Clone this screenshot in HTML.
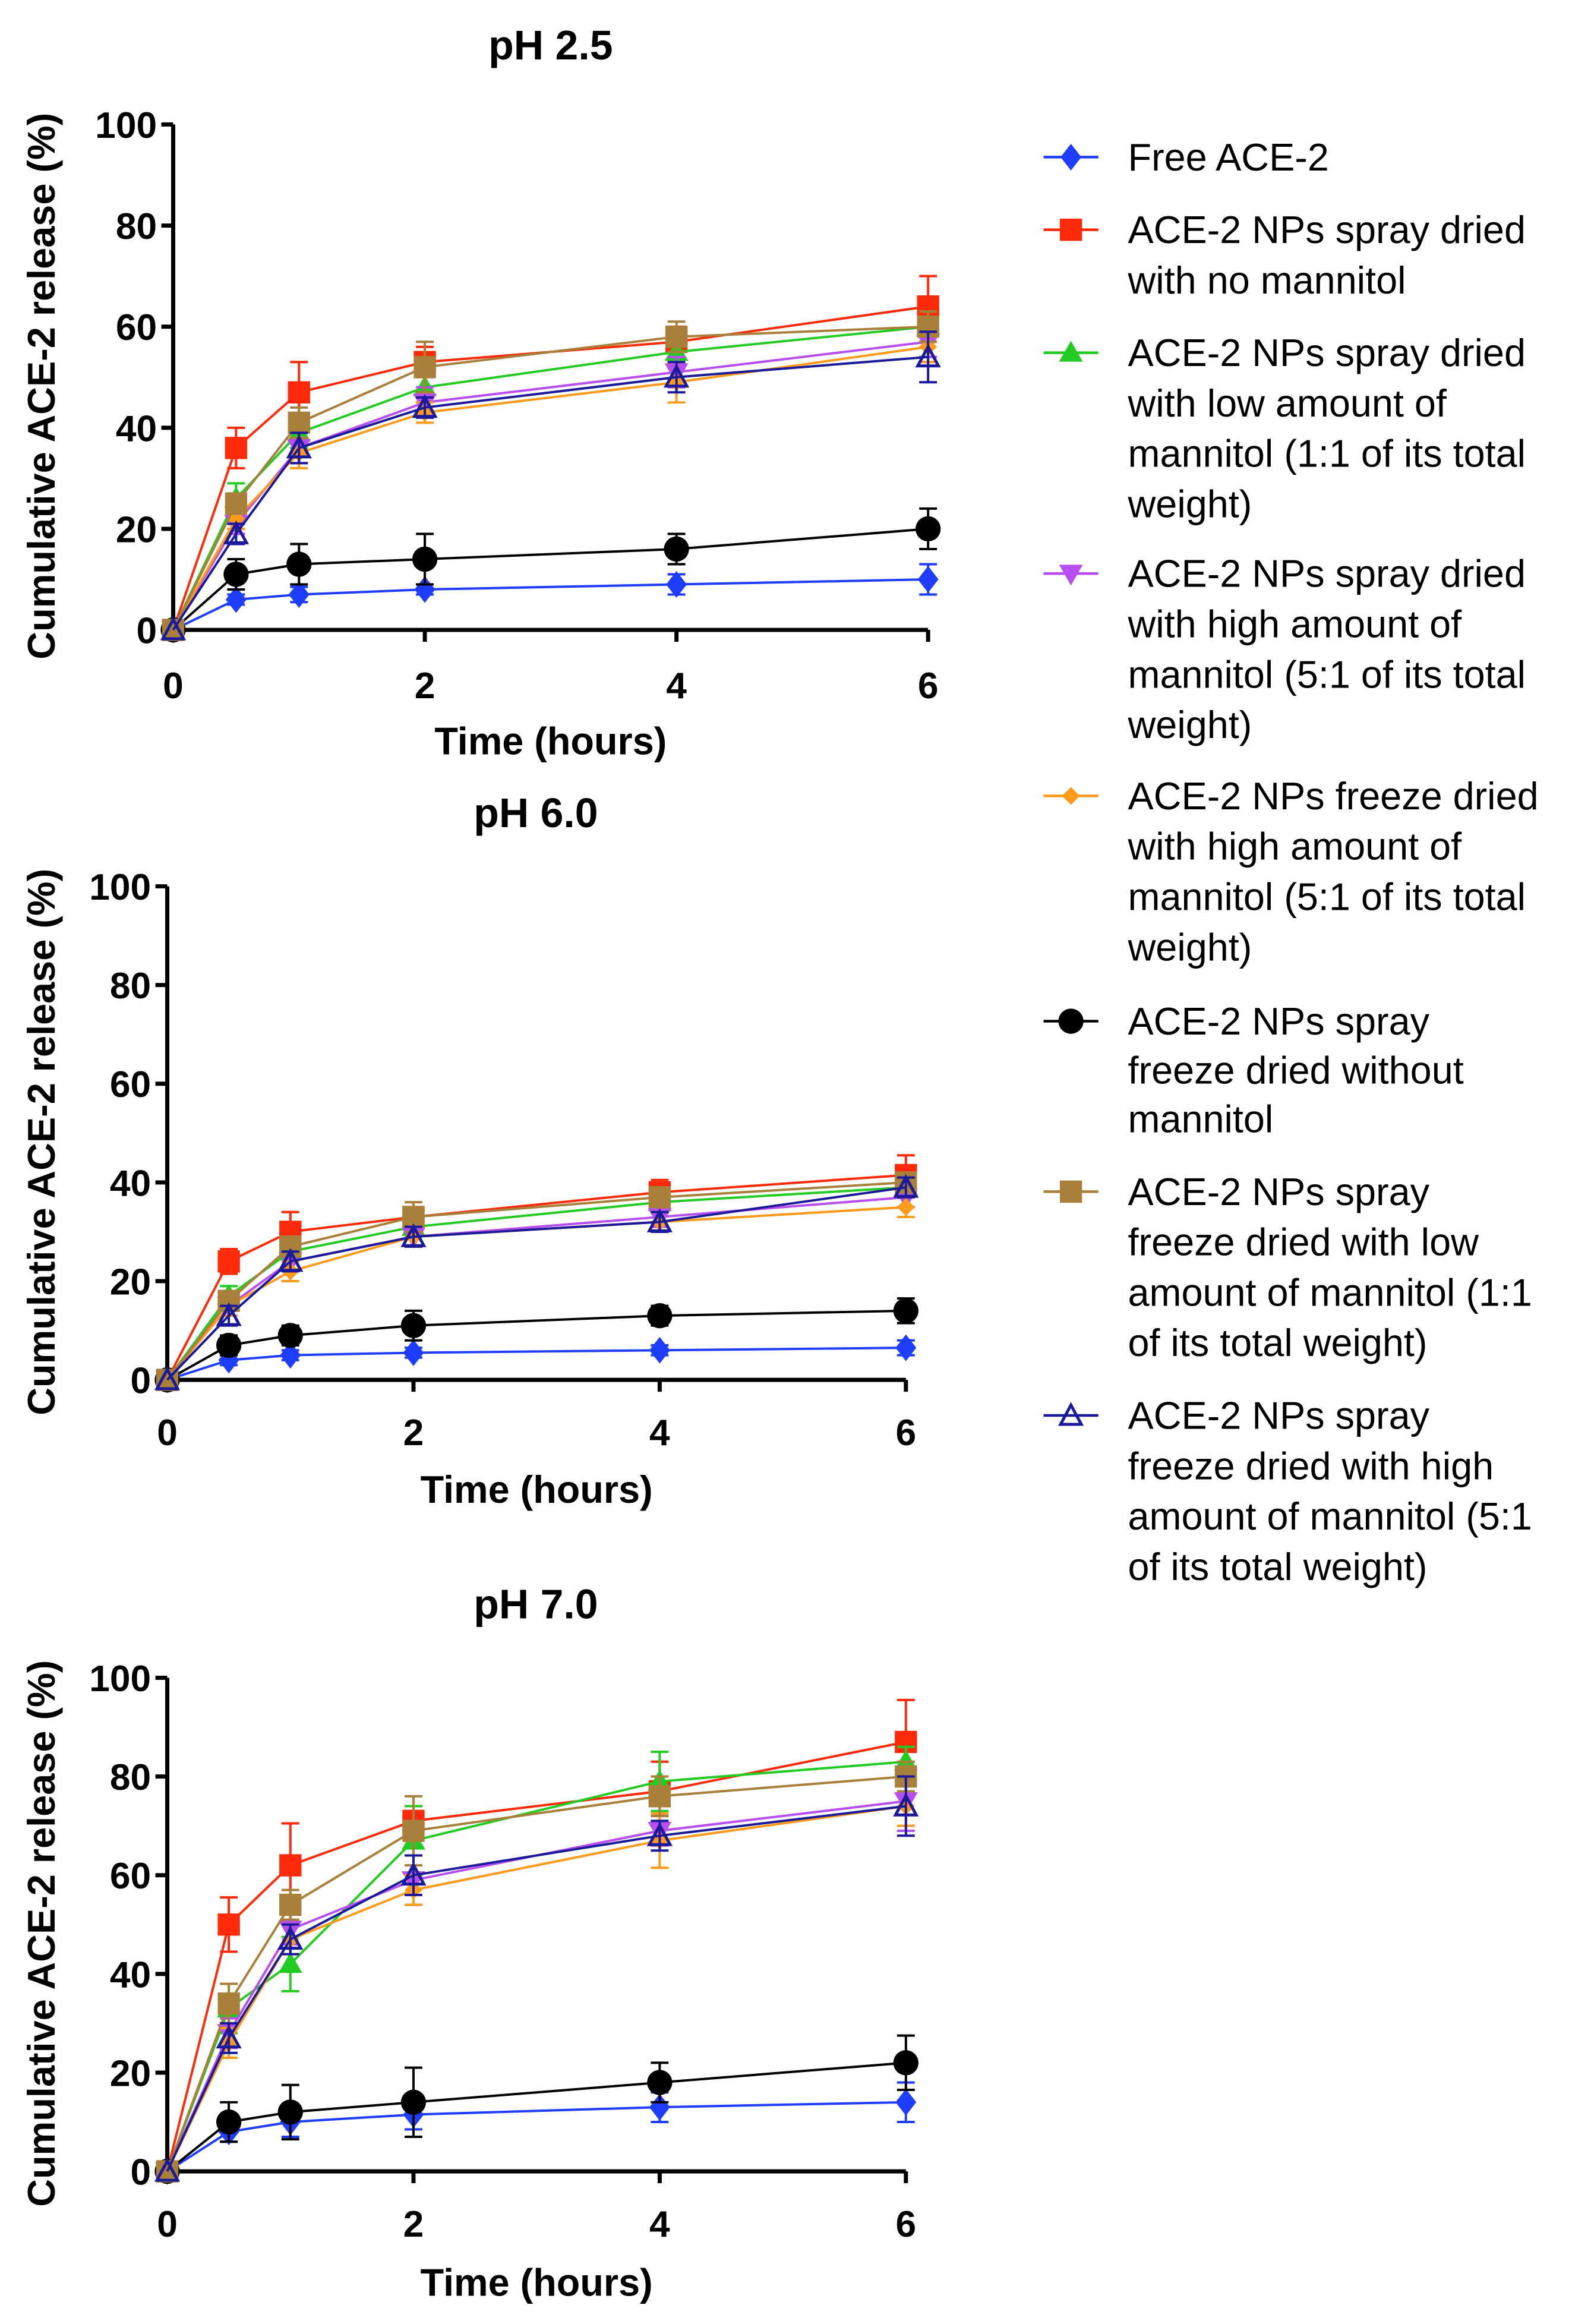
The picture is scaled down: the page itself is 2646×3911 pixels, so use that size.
<!DOCTYPE html>
<html><head><meta charset="utf-8"><style>
html,body{margin:0;padding:0;background:#fff;}
svg{display:block;}
text{font-family:"Liberation Sans",Arial,sans-serif;}
</style></head><body>
<svg id="chart" width="2646" height="3911" viewBox="0 0 1062 1568" preserveAspectRatio="none" xmlns="http://www.w3.org/2000/svg"></svg>
<script>
const times = [0, 0.5, 1, 2, 4, 6];
const xTicks = [0, 2, 4, 6];
const yTicks = [0, 20, 40, 60, 80, 100];
const panelTitles = ["pH 2.5", "pH 6.0", "pH 7.0"];
const seriesNames = ["Free ACE-2","ACE-2 NPs spray dried no mannitol","ACE-2 NPs spray dried low mannitol","ACE-2 NPs spray dried high mannitol","ACE-2 NPs freeze dried high mannitol","ACE-2 NPs spray freeze dried no mannitol","ACE-2 NPs spray freeze dried low mannitol","ACE-2 NPs spray freeze dried high mannitol"];
// pH 2.5
const ph25Free=[0,6,7,8,9,10], ph25Red=[0,36,47,53,57,64], ph25Green=[0,26,39,48,55,60], ph25Purple=[0,21,36,45,51,57], ph25Orange=[0,22,35,43,49,56], ph25Black=[0,11,13,14,16,20], ph25Brown=[0,25,41,52,58,60], ph25Navy=[0,19,36,44,50,54];
const ph25Err=[[0,1,1.5,1,2,3],[0,4,6,3,3,6],[0,3,3,3,3,3],[0,2,3,3,3,3],[0,2,3,2,4,3],[0,3,4,5,3,4],[0,2,3,5,3,3],[0,2,3,2,3,5]];
// pH 6.0
const ph60Free=[0,4,5,5.5,6,6.5], ph60Red=[0,24,30,33,38,41.5], ph60Green=[0,17,26,31,36,39], ph60Purple=[0,15,24,29,33,37], ph60Orange=[0,15,22,29,32,35], ph60Black=[0,7,9,11,13,14], ph60Brown=[0,16,27,33,37,40], ph60Navy=[0,13,24,29,32,39];
const ph60Err=[[0,1,1,1,1,1.5],[0,2.5,4,2,2.5,4],[0,2,2,2,2,2],[0,2,2,2,2,2],[0,2,2,2,2,2],[0,2,2,3,2,2.5],[0,2,2,3,2,2],[0,2,2,2,2,2]];
// pH 7.0
const ph70Free=[0,8,10,11.5,13,14], ph70Red=[0,50,62,71,77,87], ph70Green=[0,33,42,67,79,83], ph70Purple=[0,28,49,59,69,75], ph70Orange=[0,26,47,57,67,74], ph70Black=[0,10,12,14,18,22], ph70Brown=[0,34,54,69,76,80], ph70Navy=[0,27,47,60,68,74];
const ph70Err=[[0,2,3,3,3,4],[0,5.5,8.5,3,6,8.5],[0,5,5.5,7,6,3],[0,3,3,5,3,6],[0,3,3,3,5.5,4],[0,4,5.5,7,4,5.5],[0,4,3,7,4,3],[0,3,3,4,3,6]];

const panelData=[[ph25Free,ph25Red,ph25Green,ph25Purple,ph25Orange,ph25Black,ph25Brown,ph25Navy],[ph60Free,ph60Red,ph60Green,ph60Purple,ph60Orange,ph60Black,ph60Brown,ph60Navy],[ph70Free,ph70Red,ph70Green,ph70Purple,ph70Orange,ph70Black,ph70Brown,ph70Navy]];
const panelErr=[ph25Err,ph60Err,ph70Err];
const colors=["#1f3dff","#ff2a0a","#22cc22","#b94ef0","#ff9a1a","#000000","#a8803a","#1a1a9a"];
const markers=["diamond","square","triangle","tridown","smalldiamond","circle","square","opentri"];
const panels=[
 {x0:117,x1:627,y0:425,y1:84,ty:30,tx:372,tl:462,xl:500,yl:28},
 {x0:113,x1:612,y0:931,y1:598,ty:548,tx:362,tl:966,xl:1005,yl:28},
 {x0:113,x1:612,y0:1465,y1:1132,ty:1082,tx:362,tl:1500,xl:1540,yl:28}
];
const NS="http://www.w3.org/2000/svg";
const svg=document.getElementById('chart');
function mk(tag,attrs,parent){const e=document.createElementNS(NS,tag);for(const k in attrs)e.setAttribute(k,attrs[k]);(parent||svg).appendChild(e);return e;}
function marker(g,type,cx,cy,col){
 let e;
 if(type==="diamond"){e=mk('polygon',{points:`${cx},${cy-9} ${cx+7},${cy} ${cx},${cy+9} ${cx-7},${cy}`,fill:col},g);}
 else if(type==="smalldiamond"){e=mk('polygon',{points:`${cx},${cy-6} ${cx+6},${cy} ${cx},${cy+6} ${cx-6},${cy}`,fill:col},g);}
 else if(type==="square"){e=mk('rect',{x:cx-7.5,y:cy-7.5,width:15,height:15,fill:col},g);}
 else if(type==="triangle"){e=mk('polygon',{points:`${cx},${cy-8} ${cx+8},${cy+6} ${cx-8},${cy+6}`,fill:col},g);}
 else if(type==="tridown"){e=mk('polygon',{points:`${cx-8},${cy-6} ${cx+8},${cy-6} ${cx},${cy+8}`,fill:col},g);}
 else if(type==="circle"){e=mk('circle',{cx:cx,cy:cy,r:8.5,fill:col},g);}
 else {e=mk('polygon',{points:`${cx},${cy-7} ${cx+7},${cy+6} ${cx-7},${cy+6}`,fill:'none',stroke:col,'stroke-width':2},g);}
 return e;
}
panels.forEach((p,pi)=>{
 const g=mk('g',{});
 
 
 const X=v=>p.x0+(p.x1-p.x0)*v/6, Y=v=>p.y0+(p.y1-p.y0)*v/100;
 const t=mk('text',{x:p.tx,y:p.ty+10,'text-anchor':'middle','font-size':28,'font-weight':'bold'},g);t.textContent=panelTitles[pi];
 
 
 const ax=mk('path',{d:`M${p.x0},${p.y1} V${p.y0} H${p.x1}`,stroke:'#000','stroke-width':2.8,fill:'none'},g);
 
 
 yTicks.forEach(v=>{mk('line',{x1:p.x0-8,x2:p.x0,y1:Y(v),y2:Y(v),stroke:'#000','stroke-width':2.8},g);
  const l=mk('text',{x:p.x0-11,y:Y(v)+9,'text-anchor':'end','font-size':25,'font-weight':'bold'},g);l.textContent=v;
  
  });
 xTicks.forEach(v=>{mk('line',{x1:X(v),x2:X(v),y1:p.y0,y2:p.y0+8,stroke:'#000','stroke-width':2.8},g);
  const l=mk('text',{x:X(v),y:p.tl+9,'text-anchor':'middle','font-size':25,'font-weight':'bold'},g);l.textContent=v;
  
  });
 const xl=mk('text',{x:(p.x0+p.x1)/2,y:p.xl+9,'text-anchor':'middle','font-size':26,'font-weight':'bold'},g);xl.textContent='Time (hours)';
 
 
 const ym=(p.y0+p.y1)/2+6;
 const yl=mk('text',{x:p.yl,y:ym,'text-anchor':'middle','font-size':26,'font-weight':'bold',transform:`rotate(-90 ${p.yl} ${ym}) translate(0 9)`},g);yl.textContent='Cumulative ACE-2 release (%)';
 
 
 panelData[pi].forEach((vals,si)=>{
  const sg=mk('g',{},g);
  
  
  const col=colors[si];
  const pl=mk('polyline',{points:vals.map((v,i)=>X(times[i])+','+Y(v)).join(' '),fill:'none',stroke:col,'stroke-width':1.6},sg);
  
  
  vals.forEach((v,i)=>{const e=panelErr[pi][si][i];if(e>0){const x=X(times[i]);
   mk('path',{d:`M${x},${Y(v-e)}V${Y(v+e)}M${x-6},${Y(v+e)}H${x+6}M${x-6},${Y(v-e)}H${x+6}`,stroke:col,'stroke-width':1.6,fill:'none'},sg);}});
  vals.forEach((v,i)=>{const m=marker(sg,markers[si],X(times[i]),Y(v),col);
   
   });
 });
});
const legend=[
 {lines:["Free ACE-2"],y:[106]},
 {lines:["ACE-2 NPs spray dried","with no mannitol"],y:[155,189]},
 {lines:["ACE-2 NPs spray dried","with low amount of","mannitol (1:1 of its total","weight)"],y:[238,272,306,340]},
 {lines:["ACE-2 NPs spray dried","with high amount of","mannitol (5:1 of its total","weight)"],y:[387,421,455,489]},
 {lines:["ACE-2 NPs freeze dried","with high amount of","mannitol (5:1 of its total","weight)"],y:[537,571,605,639]},
 {lines:["ACE-2 NPs spray","freeze dried without","mannitol"],y:[689,722,755]},
 {lines:["ACE-2 NPs spray","freeze dried with low","amount of mannitol (1:1","of its total weight)"],y:[804,838,872,906]},
 {lines:["ACE-2 NPs spray","freeze dried with high","amount of mannitol (5:1","of its total weight)"],y:[955,989,1023,1057]}
];
const lg=mk('g',{});


legend.forEach((L,i)=>{
 const eg=mk('g',{},lg);
 
 
 const y=L.y[0];
 mk('line',{x1:705,x2:742,y1:y,y2:y,stroke:colors[i],'stroke-width':1.8},eg);
 marker(eg,markers[i],723.5,y,colors[i]);
 L.lines.forEach((s,j)=>{const t=mk('text',{x:762,y:L.y[j]+9,'font-size':26},eg);t.textContent=s;});
});
</script>
</body></html>
